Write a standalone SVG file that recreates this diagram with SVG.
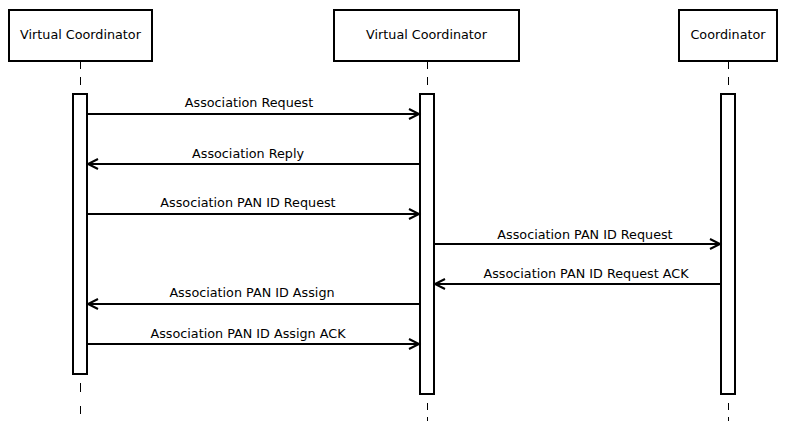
<svg xmlns="http://www.w3.org/2000/svg" width="793" height="431" viewBox="0 0 793 431">
<style>
.box{fill:#fff;stroke:#000;stroke-width:2}
.act{fill:#fff;stroke:#000;stroke-width:2}
.life{stroke:#000;stroke-width:1;fill:none}
.msg{stroke:#000;stroke-width:2;fill:none}
.head{stroke:#000;stroke-width:2;fill:none}
text{font-family:"DejaVu Sans",sans-serif;font-size:12.75px;fill:#000;text-anchor:middle}
</style>
<rect width="793" height="431" fill="#fff"/>
<g id="lifelines">
<path class="life" d="M80.5,62V69M80.5,77V85M80.5,383V392M80.5,406V414"/>
<path class="life" d="M427.5,62V69M427.5,77V85M427.5,403V410M427.5,417V421"/>
<path class="life" d="M728.5,62V69M728.5,77V85M728.5,403V410M728.5,417V421"/>
</g>
<g id="node-vc1">
<rect class="box" x="9" y="10" width="143" height="51"/>
<text x="80.5" y="39">Virtual Coordinator</text>
<rect class="act" x="73" y="94" width="14" height="280"/>
</g>
<g id="node-vc2">
<rect class="box" x="334" y="10" width="185" height="51"/>
<text x="426.5" y="39">Virtual Coordinator</text>
<rect class="act" x="420" y="94" width="14" height="300"/>
</g>
<g id="node-coord">
<rect class="box" x="679" y="10" width="98" height="51"/>
<text x="728" y="39">Coordinator</text>
<rect class="act" x="721" y="94" width="14" height="300"/>
</g>
<g id="connectors">
<line class="msg" x1="87" y1="114" x2="419" y2="114"/>
<polyline class="head" points="409,109 419,114 409,119"/>
<text x="249" y="107">Association Request</text>
<line class="msg" x1="420" y1="164" x2="88" y2="164"/>
<polyline class="head" points="98,159 88,164 98,169"/>
<text x="248" y="158">Association Reply</text>
<line class="msg" x1="87" y1="214" x2="419" y2="214"/>
<polyline class="head" points="409,209 419,214 409,219"/>
<text x="248" y="207">Association PAN ID Request</text>
<line class="msg" x1="434" y1="244" x2="720" y2="244"/>
<polyline class="head" points="710,239 720,244 710,249"/>
<text x="585" y="239">Association PAN ID Request</text>
<line class="msg" x1="721" y1="284" x2="435" y2="284"/>
<polyline class="head" points="445,279 435,284 445,289"/>
<text x="586" y="278">Association PAN ID Request ACK</text>
<line class="msg" x1="420" y1="304" x2="88" y2="304"/>
<polyline class="head" points="98,299 88,304 98,309"/>
<text x="252" y="297">Association PAN ID Assign</text>
<line class="msg" x1="87" y1="344" x2="419" y2="344"/>
<polyline class="head" points="409,339 419,344 409,349"/>
<text x="248" y="338">Association PAN ID Assign ACK</text>
</g>
</svg>
